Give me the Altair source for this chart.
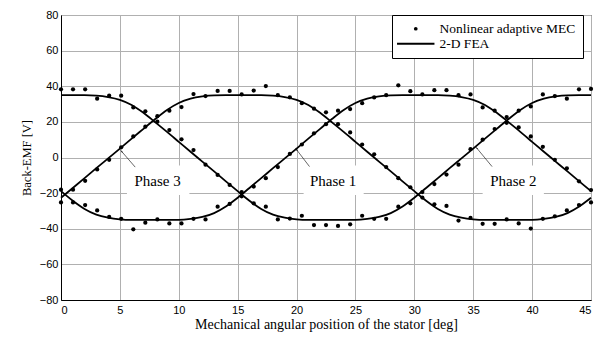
import altair as alt
import pandas as pd

# ---- 2-D FEA curves (read at 1 deg steps) ----
fea_x = [0, 1, 2, 3, 4, 5, 6, 7, 8, 9, 10, 11, 12, 13, 14, 15, 16, 17, 18, 19, 20, 21, 22,
         23, 24, 25, 26, 27, 28, 29, 30, 31, 32, 33, 34, 35, 36, 37, 38, 39, 40, 41, 42, 43, 44, 45]
fea_a = [35, 35, 35, 34.75, 33.95, 32.4, 29.5, 25.1, 19.8, 14.4, 8.8, 3.2, -2.3, -7.8, -13.4, -18.9,
         -24.3, -28.9, -32.1, -33.8, -34.7, -35, -35, -35, -35, -35, -34.5, -33.4, -31.2, -27.5,
         -22.6, -17.1, -11.6, -6.0, -0.5, 5.0, 10.6, 16.1, 21.6, 26.7, 30.6, 33.0, 34.3, 34.9, 35, 35]
fea_b = [-22.6, -17.1, -11.6, -6.0, -0.5, 5.0, 10.6, 16.1, 21.6, 26.7, 30.6, 33.0, 34.3, 34.9, 35,
         35, 35, 35, 34.75, 33.95, 32.4, 29.5, 25.1, 19.8, 14.4, 8.8, 3.2, -2.3, -7.8, -13.4, -18.9,
         -24.3, -28.9, -32.1, -33.8, -34.7, -35, -35, -35, -35, -35, -34.5, -33.4, -31.2, -27.5, -22.6]
fea_c = [-18.9, -24.3, -28.9, -32.1, -33.8, -34.7, -35, -35, -35, -35, -35, -34.5, -33.4, -31.2,
         -27.5, -22.6, -17.1, -11.6, -6.0, -0.5, 5.0, 10.6, 16.1, 21.6, 26.7, 30.6, 33.0, 34.3, 34.9,
         35, 35, 35, 35, 34.75, 33.95, 32.4, 29.5, 25.1, 19.8, 14.4, 8.8, 3.2, -2.3, -7.8, -13.4, -18.9]

# ---- Nonlinear adaptive MEC points ----
mec_x = [0.0, 1.02, 2.05, 3.07, 4.09, 5.11, 6.14, 7.16, 8.18, 9.2, 10.23, 11.25, 12.27, 13.3,
         14.32, 15.34, 16.36, 17.39, 18.41, 19.43, 20.45, 21.48, 22.5, 23.52, 24.55, 25.57, 26.59,
         27.61, 28.64, 29.66, 30.68, 31.7, 32.73, 33.75, 34.77, 35.8, 36.82, 37.84, 38.86, 39.89,
         40.91, 41.93, 42.95, 43.98, 45.0]
mec_a = [38.3, 38.3, 38.3, 33.0, 34.7, 34.7, 28.1, 25.9, 20.1, 15.4, 10.2, 4.2, -4.0, -9.8, -15.4,
         -21.8, -25.7, -27.6, -34.8, -34.3, -32.7, -37.9, -37.9, -38.4, -37.5, -32.7, -34.4, -34.4,
         -27.6, -25.7, -19.4, -14.9, -9.6, -4.0, 4.7, 10.0, 16.0, 19.5, 26.3, 28.7, 35.4, 34.5, 33.0,
         38.3, 38.5]
mec_b = [-25.2, -18.1, -13.1, -6.7, -1.3, 5.7, 11.8, 17.3, 23.2, 26.3, 28.3, 35.6, 34.5, 37.4, 37.4,
         35.4, 37.6, 40.1, 35.0, 33.8, 30.5, 27.4, 25.4, 18.7, 14.1, 7.3, 1.8, -5.4, -11.6, -16.7,
         -22.5, -26.3, -27.2, -35.4, -33.9, -37.2, -37.2, -34.8, -37.0, -39.9, -34.4, -33.0, -29.7,
         -26.7, -25.2]
mec_c = [-18.1, -25.2, -26.7, -29.7, -33.4, -34.4, -40.3, -36.6, -34.8, -37.0, -37.0, -34.4, -34.8,
         -27.6, -26.1, -19.4, -16.3, -11.6, -5.4, 2.0, 7.3, 13.6, 18.7, 26.3, 27.2, 30.5, 33.7, 35.0,
         40.5, 37.2, 35.4, 37.8, 37.8, 35.0, 35.4, 28.1, 26.3, 22.7, 16.9, 11.8, 6.0, -1.3, -6.1,
         -13.4, -18.3]

# ---- annotations ----
label_text = ["Phase 3", "Phase 1", "Phase 2"]
label_x = [8.2, 23.1, 38.4]
label_y = [-13.4, -13.4, -13.4]
box_x1 = [5.6, 20.6, 35.8]
box_x2 = [10.9, 25.7, 41.0]
box_y1 = [-4.5, -4.5, -4.5]
box_y2 = [-21.0, -21.0, -21.0]
arrow_tail_x = [6.3, 21.1, 36.6]
arrow_tail_y = [-5.4, -5.1, -5.1]
arrow_tip_x = [5.15, 20.0, 35.3]
arrow_tip_y = [3.4, 4.4, 5.3]
arrow_angle = [321, 322, 322]

x_ticks = [0, 5, 10, 15, 20, 25, 30, 35, 40, 45]
y_ticks = [-80, -60, -40, -20, 0, 20, 40, 60, 80]

MEC = "Nonlinear adaptive MEC"
FEA = "2-D FEA"

fea_df = pd.concat([
    pd.DataFrame({"x": fea_x, "y": v, "phase": p})
    for p, v in [("A", fea_a), ("B", fea_b), ("C", fea_c)]
])
mec_df = pd.concat([
    pd.DataFrame({"x": mec_x, "y": v, "phase": p, "series": MEC})
    for p, v in [("A", mec_a), ("B", mec_b), ("C", mec_c)]
])
ann_df = pd.DataFrame({
    "text": label_text, "lx": label_x, "ly": label_y,
    "bx1": box_x1, "bx2": box_x2, "by1": box_y1, "by2": box_y2,
    "tx": arrow_tail_x, "ty": arrow_tail_y, "hx": arrow_tip_x, "hy": arrow_tip_y,
    "ang": arrow_angle,
})

xscale = alt.Scale(domain=[0, 45], nice=False, zero=False)
yscale = alt.Scale(domain=[-80, 80], nice=False, zero=False)

xaxis = alt.Axis(values=x_ticks, title="Mechanical angular position of the stator [deg]",
                 grid=True, ticks=False, labelPadding=4, titlePadding=2, titleFontSize=14,
                 labelOverlap=False, tickCount=10)
yaxis = alt.Axis(values=y_ticks, title="Back-EMF [V]", grid=True, ticks=False,
                 labelPadding=3, titlePadding=6, titleFontSize=12.5, labelOverlap=False,
                 tickCount=9)


def X(field):
    return alt.X(field, scale=xscale, axis=xaxis)


def Y(field):
    return alt.Y(field, scale=yscale, axis=yaxis)


boxes = alt.Chart(ann_df).mark_rect(color="white").encode(
    x=X("bx1:Q"), x2="bx2:Q", y=Y("by1:Q"), y2="by2:Q",
)

lines = alt.Chart(fea_df).mark_line(color="black", strokeWidth=1.8, interpolate="monotone").encode(
    x=X("x:Q"), y=Y("y:Q"), detail="phase:N",
)

legend = alt.Legend(orient="none", legendX=331, legendY=0, title=None,
                    strokeColor="black", fillColor="white", padding=7,
                    labelFont="Liberation Serif", labelFontSize=13.5, labelColor="black",
                    labelOffset=17, symbolFillColor="black", symbolStrokeColor="black",
                    symbolStrokeWidth=0.5, symbolSize=14, symbolOffset=10, rowPadding=0,
                    cornerRadius=0)

points = alt.Chart(mec_df).mark_point(filled=True, color="black", opacity=1, size=18).encode(
    x=X("x:Q"), y=Y("y:Q"),
    shape=alt.Shape("series:N",
                    scale=alt.Scale(domain=[MEC, FEA],
                                    range=["circle", "M-10,-0.5H10V0.5H-10Z"]),
                    legend=legend),
)

texts = alt.Chart(ann_df).mark_text(font="Liberation Serif", fontSize=15, color="black",
                                    align="center", baseline="middle").encode(
    x=X("lx:Q"), y=Y("ly:Q"), text="text:N",
)

arrows = alt.Chart(ann_df).mark_rule(color="black", strokeWidth=0.6).encode(
    x=X("tx:Q"), y=Y("ty:Q"), x2="hx:Q", y2="hy:Q",
)

heads = alt.Chart(ann_df).mark_point(shape="wedge", filled=True, color="black", size=18,
                                     opacity=1).encode(
    x=X("hx:Q"), y=Y("hy:Q"),
    angle=alt.Angle("ang:Q", scale=None),
)

chart = alt.layer(boxes, lines, points, texts, arrows, heads).properties(
    width=530, height=285,
    autosize=alt.AutoSizeParams(type="none"),
    padding={"left": 53, "top": 7, "right": 12, "bottom": 40},
).configure_view(stroke="black", strokeWidth=1).configure_axis(
    gridColor="#b0b0b0", gridWidth=1, gridOpacity=1,
    domainColor="black", domainWidth=1, labelOverlap=False,
    labelFont="Liberation Sans", labelFontSize=11, labelColor="black",
    titleFont="Liberation Serif", titleFontWeight="normal", titleColor="black",
)

chart.save("out.html", embed_options={"renderer": "svg", "actions": False})
